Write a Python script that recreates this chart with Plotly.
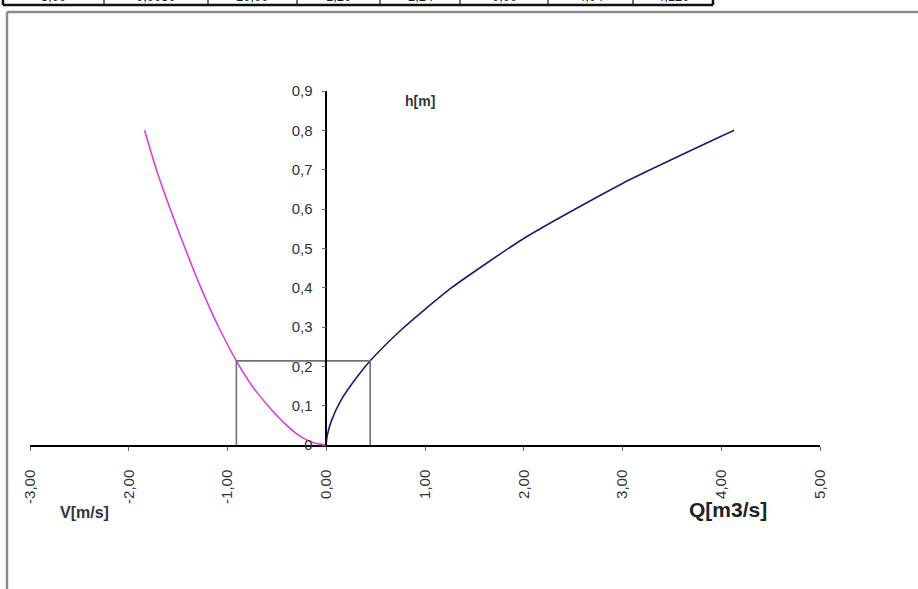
import plotly.graph_objects as go

# ---- data ----
h_v = [0, 0.005, 0.02, 0.05, 0.1, 0.15, 0.214, 0.3, 0.4, 0.5, 0.6, 0.7, 0.8]
v_ms = [0, -0.12, -0.25, -0.40, -0.59, -0.75, -0.91, -1.09, -1.27, -1.43, -1.58, -1.72, -1.84]

q_m3s = [0, 0.002, 0.01, 0.05, 0.15, 0.3, 0.445, 0.76, 1.0, 1.27, 2.0, 3.0, 4.13]
h_q = [0, 0.01, 0.024, 0.06, 0.114, 0.169, 0.214, 0.293, 0.345, 0.40, 0.525, 0.665, 0.80]

# operating point (box)
op_h = 0.214
op_v = -0.91
op_q = 0.445

x_ticks = [-3, -2, -1, 0, 1, 2, 3, 4, 5]
x_ticktext = ["-3,00", "-2,00", "-1,00", "0,00", "1,00", "2,00", "3,00", "4,00", "5,00"]
y_ticks = [0, 0.1, 0.2, 0.3, 0.4, 0.5, 0.6, 0.7, 0.8, 0.9]
y_ticktext = ["0", "0,1", "0,2", "0,3", "0,4", "0,5", "0,6", "0,7", "0,8", "0,9"]

table_texts = ["3,00", "0,0030", "10,00", "1,20", "2,24", "0,00", "4,04", "4,120"]

# ---- layout geometry (pixels) ----
W, H = 918, 589
L, R, T, B = 30, 98, 91, 144
PW, PH = W - L - R, H - T - B


def px(xp):
    return (xp - L) / PW


def py(yp):
    return (H - B - yp) / PH


fig = go.Figure()

fig.add_trace(go.Scatter(x=v_ms, y=h_v, mode="lines",
                         line=dict(color="#e03ce0", width=1.6, shape="spline", smoothing=0.6),
                         showlegend=False, hoverinfo="skip"))
fig.add_trace(go.Scatter(x=q_m3s, y=h_q, mode="lines",
                         line=dict(color="#1c1c70", width=1.6, shape="spline", smoothing=0.6),
                         showlegend=False, hoverinfo="skip"))
# box lines
fig.add_trace(go.Scatter(x=[op_v, op_v, op_q, op_q], y=[0, op_h, op_h, 0], mode="lines",
                         line=dict(color="#707070", width=1.6), showlegend=False, hoverinfo="skip"))

shapes = []
# chart frame (gray)
shapes.append(dict(type="line", xref="paper", yref="paper", x0=px(7), x1=px(930), y0=py(12), y1=py(12),
                   line=dict(color="#8a8a8a", width=2.5)))
shapes.append(dict(type="line", xref="paper", yref="paper", x0=px(7), x1=px(7), y0=py(12), y1=py(600),
                   line=dict(color="#8a8a8a", width=2.5)))
# cut-off table at the top
shapes.append(dict(type="line", xref="paper", yref="paper", x0=px(3), x1=px(713), y0=py(5), y1=py(5),
                   line=dict(color="#111111", width=2.5)))
dividers = [3, 104, 208, 297, 380, 460, 548, 633, 713]
for i, d in enumerate(dividers):
    shapes.append(dict(type="line", xref="paper", yref="paper", x0=px(d), x1=px(d), y0=py(-5), y1=py(5),
                       line=dict(color="#111111", width=2.5 if i in (0, len(dividers) - 1) else 1.2)))

annotations = []
for i, t in enumerate(table_texts):
    cx = (dividers[i] + dividers[i + 1]) / 2
    annotations.append(dict(text=t, xref="paper", yref="paper", x=px(cx), y=py(6), xanchor="center",
                            yanchor="bottom", showarrow=False,
                            font=dict(family="Liberation Sans", size=13, color="#222222")))

annotations += [
    dict(text="<b>h[m]</b>", xref="paper", yref="paper", x=px(420), y=py(101), xanchor="center", yanchor="middle",
         showarrow=False, font=dict(family="Liberation Sans", size=14, color="#333")),
    dict(text="<b>V[m/s]</b>", xref="paper", yref="paper", x=px(84), y=py(512), xanchor="center", yanchor="middle",
         showarrow=False, font=dict(family="Liberation Sans", size=16, color="#333")),
    dict(text="<b>Q[m3/s]</b>", xref="paper", yref="paper", x=px(728), y=py(509), xanchor="center", yanchor="middle",
         showarrow=False, font=dict(family="Liberation Sans", size=21, color="#222")),
]

fig.update_layout(
    width=W, height=H, autosize=False,
    margin=dict(l=L, r=R, t=T, b=B, pad=0),
    paper_bgcolor="white", plot_bgcolor="white",
    separators=", ",
    shapes=shapes, annotations=annotations,
    xaxis=dict(range=[-3, 5], tickvals=x_ticks, ticktext=x_ticktext, tickangle=-90,
               showline=True, linecolor="black", linewidth=1.5, ticks="outside", ticklen=4,
               tickcolor="#666", showgrid=False, zeroline=False, ticklabelstandoff=13,
               tickfont=dict(family="Liberation Sans", size=15, color="#333"), fixedrange=True),
    yaxis=dict(range=[0, 0.9], tickvals=y_ticks, ticktext=y_ticktext, anchor="free", position=0.375,
               showline=True, linecolor="black", linewidth=1.5, ticks="outside", ticklen=4,
               tickcolor="#666", showgrid=False, zeroline=False, ticklabelstandoff=6,
               tickfont=dict(family="Liberation Sans", size=15, color="#333"), fixedrange=True),
)

fig.write_html("out.html", config={"displayModeBar": False},
               post_script="document.body.style.margin='0';document.body.style.overflow='hidden';")
